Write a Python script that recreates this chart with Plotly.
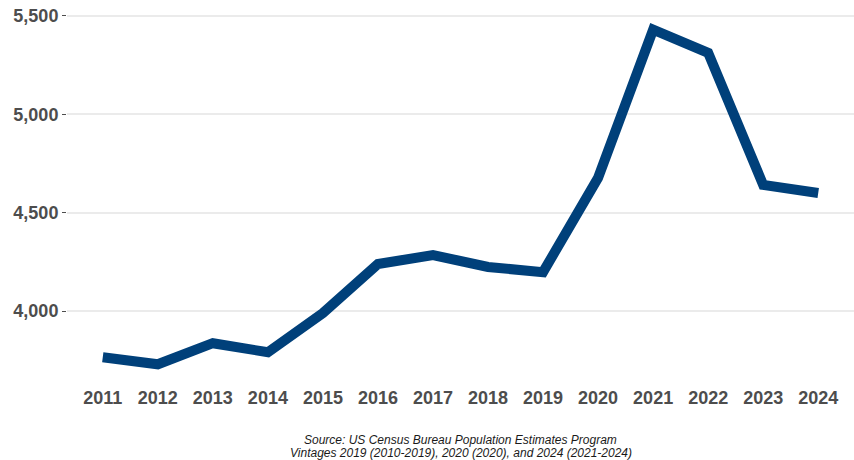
import plotly.graph_objects as go

years = list(range(2011, 2025))
population = [3766, 3730, 3837, 3791, 3990, 4239, 4285, 4224, 4198, 4677, 5429, 5312, 4641, 4600]
y_ticks = [4000, 4500, 5000, 5500]
y_tick_labels = ["4,000", "4,500", "5,000", "5,500"]
caption_lines = [
    "Source: US Census Bureau Population Estimates Program",
    "Vintages 2019 (2010-2019), 2020 (2020), and 2024 (2021-2024)",
]

fig = go.Figure()
fig.add_trace(go.Scatter(
    x=years, y=population, mode="lines",
    line=dict(color="#00407a", width=10),
    hoverinfo="x+y",
))

tick_font = dict(family="Liberation Sans, Arial, sans-serif", size=18,
                 color="#4d4d4d", weight="bold")
caption_font = dict(family="Liberation Sans, Arial, sans-serif", size=12,
                    color="#1a1a1a", style="italic")

# caption lines placed below the plot area, 13 px apart
caption_annotations = [
    dict(text=line, xref="paper", yref="paper", x=0.5, y=ypos,
         xanchor="center", yanchor="middle", showarrow=False, font=caption_font)
    for line, ypos in zip(caption_lines, [-0.160, -0.196])
]

fig.update_layout(
    width=854, height=460,
    margin=dict(l=67, r=0, t=13, b=79),
    paper_bgcolor="white", plot_bgcolor="white",
    showlegend=False,
    xaxis=dict(
        range=[2010.35, 2024.65],
        tickmode="array", tickvals=years, ticktext=[str(y) for y in years],
        showgrid=False, zeroline=False, showline=False,
        ticks="", tickfont=tick_font, ticklabelstandoff=4,
    ),
    yaxis=dict(
        range=[3645, 5514],
        tickmode="array", tickvals=y_ticks, ticktext=y_tick_labels,
        showgrid=True, gridcolor="#ebebeb", gridwidth=1.5,
        zeroline=False, showline=False,
        ticks="outside", ticklen=4, tickcolor="#4d4d4d", tickwidth=1,
        tickfont=tick_font,
    ),
    annotations=caption_annotations,
)

fig.write_html("out.html")
